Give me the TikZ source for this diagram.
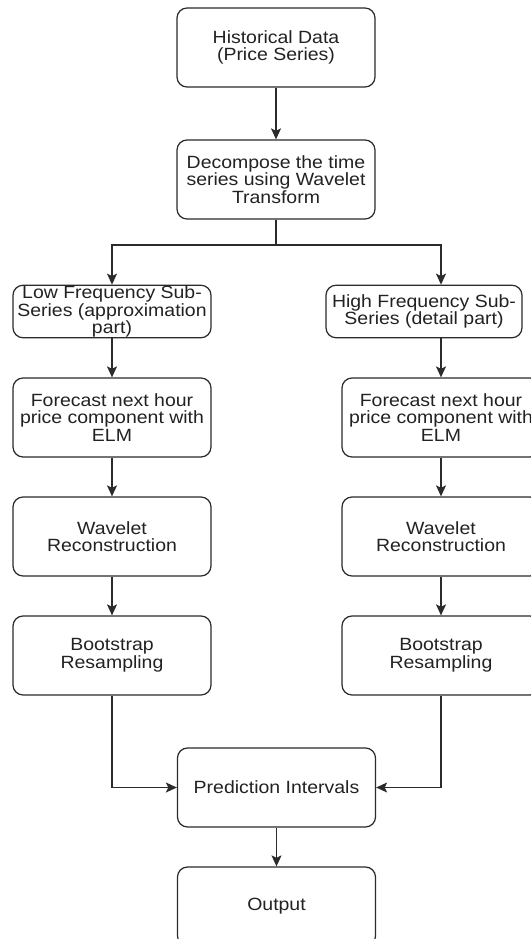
\documentclass[tikz,border=0pt]{standalone}
\usepackage{fontspec}
\setmainfont[FakeStretch=1.10]{Liberation Sans}
\usetikzlibrary{arrows.meta}
\definecolor{ink}{HTML}{2B2B2B}
\definecolor{txt}{HTML}{222222}
\begin{document}
\begin{tikzpicture}[x=1pt,y=-1pt,
  every node/.style={font=\fontsize{17.7}{17.6}\selectfont, text=txt},
  box/.style={draw=ink, line width=1.25pt, fill=white, rounded corners=10pt,
    minimum width=198pt, minimum height=79pt, inner sep=0pt, align=center},
  flatbox/.style={box, minimum height=52.5pt},
  label text/.style={inner sep=0pt, align=center},
  arr/.style={draw=ink, line width=1.25pt,
    -{Stealth[length=11pt,width=10pt,inset=2.5pt]}}]
  \useasboundingbox[fill=white] (0,0) rectangle (530,939);

  % main column
  \node[box] (hist) at (276,47.5) {Historical Data\\(Price Series)};
  \node[box] (dec)  at (276,179.5) {Decompose the time\\series using Wavelet\\Transform};

  % sub-series boxes (text spills over the short boxes)
  \node[flatbox] (low)  at (112,311.5) {};
  \node[label text] (lowt) at (low) {Low Frequency Sub-\\Series (approximation\\part)};
  \node[flatbox, minimum width=196pt] (high) at (424,311.5) {};
  \node[label text] (hight) at (high) {High Frequency Sub-\\Series (detail part)};

  % left branch
  \node[box] (fc1) at (112,417.5) {Forecast next hour\\price component with\\ELM};
  \node[box] (wr1) at (112,536.5) {Wavelet\\Reconstruction};
  \node[box] (bs1) at (112,655.5) {Bootstrap\\Resampling};

  % right branch
  \node[box] (fc2) at (441,417.5) {Forecast next hour\\price component with\\ELM};
  \node[box] (wr2) at (441,536.5) {Wavelet\\Reconstruction};
  \node[box] (bs2) at (441,655.5) {Bootstrap\\Resampling};

  % merge and output
  \node[box] (pred) at (276.5,787.5) {Prediction Intervals};
  \node[box] (out)  at (276.5,906.5) {Output};

  % connectors
  \draw[arr] (hist) -- (dec);
  \coordinate (split) at (276,245);
  \draw[arr] (dec.south) -- (split) -| (low.north);
  \draw[arr] (split) -| (high.north -| fc2.north);
  \draw[arr] (low.south) -- (fc1.north);
  \draw[arr] (high.south -| fc2.north) -- (fc2.north);
  \draw[arr] (fc1) -- (wr1);
  \draw[arr] (wr1) -- (bs1);
  \draw[arr] (fc2) -- (wr2);
  \draw[arr] (wr2) -- (bs2);
  \draw[arr] (bs1.south) |- (pred.west);
  \draw[arr] (bs2.south) |- (pred.east);
  \draw[arr] (pred) -- (out);
\end{tikzpicture}
\end{document}
